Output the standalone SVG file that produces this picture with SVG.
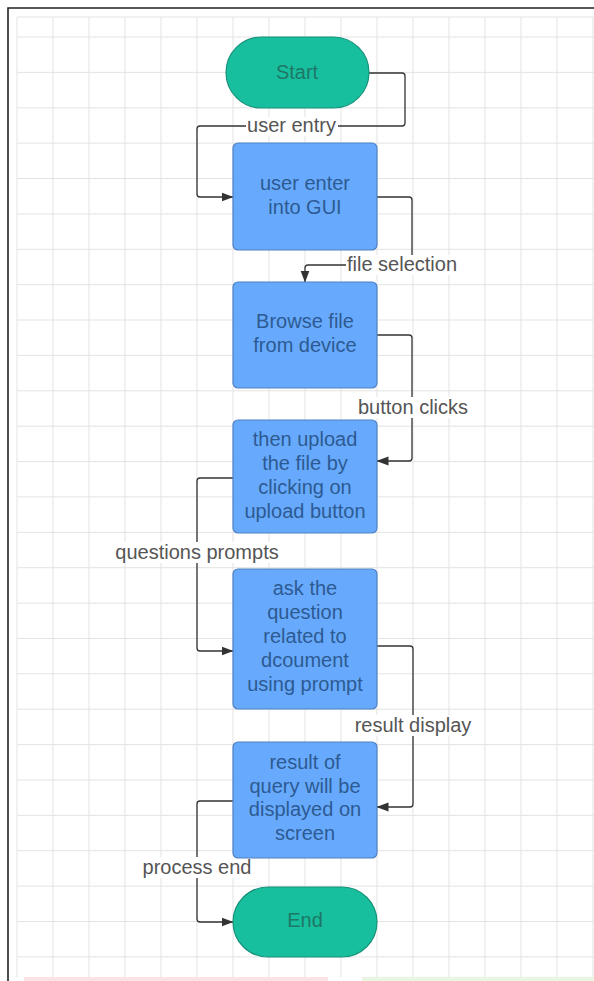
<svg xmlns="http://www.w3.org/2000/svg" width="594" height="981" viewBox="0 0 594 981">
<defs>
<marker id="arr" viewBox="0 0 12 10" refX="11.5" refY="5" markerWidth="12" markerHeight="10" markerUnits="userSpaceOnUse" orient="auto">
<path d="M0,0.5 L12,5 L0,9.5 Z" fill="#333333"/>
</marker>
<style>
.grid{stroke:#e3e3e3;stroke-width:1;fill:none}
.term{fill:#17bf9f;stroke:#17927b;stroke-width:1.2}
.proc{fill:#67aafd;stroke:#4f82c4;stroke-width:1.2}
.tt{font-family:"Liberation Sans",Arial,sans-serif;font-size:20px;fill:#1f7765;text-anchor:middle}
.pt{font-family:"Liberation Sans",Arial,sans-serif;font-size:20px;fill:#2d5a92;text-anchor:middle}
.conn{fill:none;stroke:#333333;stroke-width:1.3;stroke-linejoin:round}
.lbg{fill:#ffffff}
.lt{font-family:"Liberation Sans",Arial,sans-serif;font-size:20px;fill:#555555;text-anchor:middle}
</style>
</defs>
<rect x="0" y="0" width="594" height="981" fill="#ffffff"/>
<g id="grid">
<path class="grid" d="M17,17V977M53,17V977M89,17V977M125,17V977M161,17V977M197,17V977M233,17V977M269,17V977M305,17V977M341,17V977M377,17V977M413,17V977M449,17V977M485,17V977M521,17V977M557,17V977M593,17V977"/>
<path class="grid" d="M17,17H594M17,37H594M17,72.4H594M17,107.8H594M17,143.1H594M17,178.5H594M17,213.9H594M17,249.3H594M17,284.7H594M17,320H594M17,355.4H594M17,390.8H594M17,426.2H594M17,461.6H594M17,496.9H594M17,532.3H594M17,567.7H594M17,603.1H594M17,638.5H594M17,673.8H594M17,709.2H594M17,744.6H594M17,780H594M17,815.4H594M17,850.7H594M17,886.1H594M17,921.5H594M17,956.9H594"/>
</g>
<g id="frame">
<path d="M8,981V8H594" fill="none" stroke="#222222" stroke-width="1.6"/>
<rect x="24" y="977" width="304" height="4" fill="#fde3e3"/>
<rect x="362" y="977" width="232" height="4" fill="#e8f6e2"/>
</g>
<g id="connectors">
<path class="conn" d="M369,73 H402 Q405,73 405,76 V123 Q405,126 402,126 H200 Q197,126 197,129 V194 Q197,197 200,197 H233" marker-end="url(#arr)"/>
<path class="conn" d="M377,197 H409 Q412,197 412,200 V262 Q412,265 409,265 H308 Q305,265 305,268 V282" marker-end="url(#arr)"/>
<path class="conn" d="M377,335 H409 Q412,335 412,338 V458 Q412,461 409,461 H377" marker-end="url(#arr)"/>
<path class="conn" d="M233,478 H200 Q197,478 197,481 V648 Q197,651 200,651 H233" marker-end="url(#arr)"/>
<path class="conn" d="M377,646 H410 Q413,646 413,649 V804 Q413,807 410,807 H377" marker-end="url(#arr)"/>
<path class="conn" d="M233,801 H200 Q197,801 197,804 V919 Q197,922 200,922 H233" marker-end="url(#arr)"/>
<rect class="lbg" x="246" y="117" width="92" height="19"/>
<text class="lt" x="291.5" y="132">user entry</text>
<rect class="lbg" x="346" y="255" width="112" height="20"/>
<text class="lt" x="402" y="271">file selection</text>
<rect class="lbg" x="357" y="397" width="112" height="21"/>
<text class="lt" x="413" y="414">button clicks</text>
<rect class="lbg" x="114" y="542" width="166" height="21"/>
<text class="lt" x="197" y="559">questions prompts</text>
<rect class="lbg" x="354" y="715" width="119" height="21"/>
<text class="lt" x="413" y="732">result display</text>
<rect class="lbg" x="141" y="857" width="112" height="21"/>
<text class="lt" x="197" y="874">process end</text>
</g>
<g id="start">
<rect class="term" x="226" y="37" width="143" height="71" rx="35.5"/>
<text class="tt" x="297" y="79">Start</text>
</g>
<g id="box1">
<rect class="proc" x="233" y="143" width="144" height="107" rx="5"/>
<text class="pt" x="305" y="190">user enter</text>
<text class="pt" x="305" y="214">into GUI</text>
</g>
<g id="box2">
<rect class="proc" x="233" y="282" width="144" height="106" rx="5"/>
<text class="pt" x="305" y="328">Browse file</text>
<text class="pt" x="305" y="352">from device</text>
</g>
<g id="box3">
<rect class="proc" x="233" y="420" width="144" height="113" rx="5"/>
<text class="pt" x="305" y="446">then upload</text>
<text class="pt" x="305" y="470">the file by</text>
<text class="pt" x="305" y="494">clicking on</text>
<text class="pt" x="305" y="518">upload button</text>
</g>
<g id="box4">
<rect class="proc" x="233" y="569" width="144" height="140" rx="5"/>
<text class="pt" x="305" y="595">ask the</text>
<text class="pt" x="305" y="619">question</text>
<text class="pt" x="305" y="643">related to</text>
<text class="pt" x="305" y="667">dcoument</text>
<text class="pt" x="305" y="691">using prompt</text>
</g>
<g id="box5">
<rect class="proc" x="233" y="742" width="144" height="116" rx="5"/>
<text class="pt" x="305" y="769">result of</text>
<text class="pt" x="305" y="793">query will be</text>
<text class="pt" x="305" y="816">displayed on</text>
<text class="pt" x="305" y="840">screen</text>
</g>
<g id="end">
<rect class="term" x="233" y="887" width="144" height="70" rx="35"/>
<text class="tt" x="305" y="927">End</text>
</g>
</svg>
